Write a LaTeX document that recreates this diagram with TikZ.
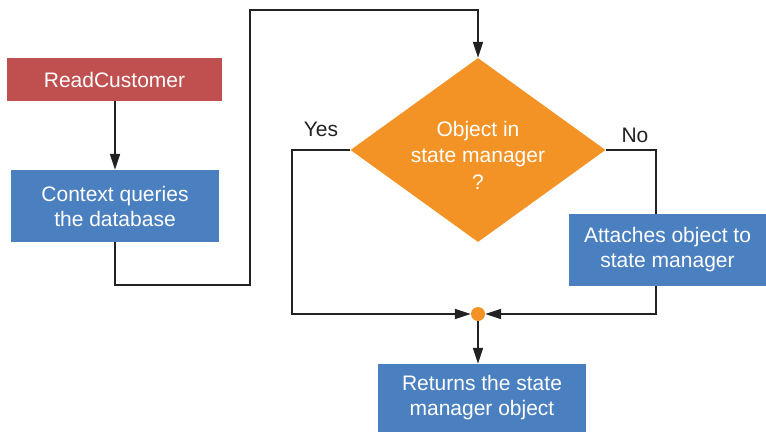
\documentclass[tikz,border=0pt]{standalone}
\usepackage{fontspec}
\setmainfont{Liberation Sans}
\usetikzlibrary{shapes.geometric,arrows.meta}
\definecolor{boxblue}{HTML}{4A7FC0}
\definecolor{boxred}{HTML}{C0504F}
\definecolor{decorange}{HTML}{F39325}
\definecolor{linegray}{HTML}{222222}
\begin{document}
\begin{tikzpicture}[x=1pt,y=-1pt,
  txt/.style={font=\fontsize{21}{25}\selectfont},
  procbox/.style={txt,rectangle,fill=boxblue,text=white,inner sep=0pt,align=center},
  startbox/.style={procbox,fill=boxred},
  decision/.style={diamond,fill=decorange,inner sep=0pt,
    shape aspect=1.386,minimum width=255pt,minimum height=184pt},
  dectext/.style={font=\fontsize{21}{26.5}\selectfont,text=white,align=center,inner sep=0pt},
  joint/.style={circle,fill=decorange,inner sep=0pt,minimum size=14pt},
  flow/.style={draw=linegray,line width=1.9pt},
  arr/.style={flow,-{Triangle[length=16pt,width=10pt]}},
  branch/.style={txt,text=linegray}]
\useasboundingbox (0,0) rectangle (766,433);

% process nodes
\node[startbox,minimum width=215pt,minimum height=43pt] (rc) at (114.5,79.5) {ReadCustomer};
\node[procbox,minimum width=208pt,minimum height=72pt] (ctx) at (115,206) {Context queries\\the database};
\node[decision] (dec) at (478,150) {};
\node[dectext] (dect) at (478,155) {Object in\\state manager\\?};
\node[procbox,minimum width=197pt,minimum height=72pt] (att) at (667.5,250) {Attaches object to\\state manager};
\node[procbox,minimum width=208pt,minimum height=68pt] (ret) at (482,398) {Returns the state\\manager object};
\node[joint] (dot) at (478,314) {};

% branch labels
\node[branch] (yes) at (321,129) {Yes};
\node[branch] (no) at (635,135) {No};

% routing points
\coordinate (c1) at (115,285);
\coordinate (c2) at (250,285);
\coordinate (c3) at (250,10);
\coordinate (yc) at (292,150);
\coordinate (yd) at (292,314);
\coordinate (nc) at (656,150);

% connectors
\draw[arr] (rc.south -| c1) -- (ctx.north -| c1);
\draw[arr] (ctx.south -| c1) -- (c1) -- (c2) -- (c3) -| (dec.north);
\draw[arr] (dec.west) -- (yc) -- (yd) -- (dot.west);
\draw[flow] (dec.east) -- (nc) -- (nc |- att.north);
\draw[arr] (nc |- att.south) -- (nc |- dot) -- (dot.east);
\draw[arr] (dot.south) -- (ret.north -| dot);
\end{tikzpicture}
\end{document}
